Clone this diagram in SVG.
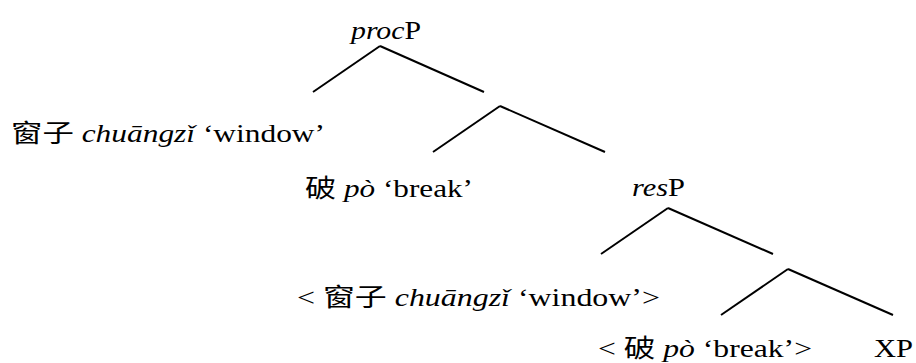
<svg xmlns="http://www.w3.org/2000/svg" width="916" height="363" viewBox="0 0 916 363">
<style>
text{font-family:"Liberation Serif","Times New Roman","Noto Sans CJK SC",serif;font-size:25px;fill:#000}
.i{font-style:italic}
line{stroke:#000;stroke-width:2;stroke-linecap:butt}
</style>
<rect width="916" height="363" fill="#fff"/>
<g id="connectors">
<line x1="380" y1="46" x2="313" y2="92"/>
<line x1="380" y1="46" x2="484" y2="92"/>
<line x1="500" y1="106" x2="433" y2="152"/>
<line x1="500" y1="106" x2="605" y2="152"/>
<line x1="668" y1="208" x2="601" y2="254"/>
<line x1="668" y1="208" x2="773" y2="254"/>
<line x1="788" y1="269" x2="721" y2="315"/>
<line x1="788" y1="269" x2="893" y2="315"/>
</g>
<g id="procP"><text x="351" y="39" textLength="70" lengthAdjust="spacingAndGlyphs"><tspan class="i">proc</tspan>P</text></g>
<g id="window"><text x="11" y="142" textLength="314" lengthAdjust="spacingAndGlyphs">窗子 <tspan class="i">chuāngzǐ</tspan> ‘window’</text></g>
<g id="break"><text x="305" y="197" textLength="168" lengthAdjust="spacingAndGlyphs">破 <tspan class="i">pò</tspan> ‘break’</text></g>
<g id="resP"><text x="632" y="196" textLength="53" lengthAdjust="spacingAndGlyphs"><tspan class="i">res</tspan>P</text></g>
<g id="window-trace"><text x="297" y="306" textLength="363" lengthAdjust="spacingAndGlyphs">&lt; 窗子 <tspan class="i">chuāngzǐ</tspan> ‘window’&gt;</text></g>
<g id="break-trace"><text x="598" y="357" textLength="214" lengthAdjust="spacingAndGlyphs">&lt; 破 <tspan class="i">pò</tspan> ‘break’&gt;</text></g>
<g id="XP"><text x="874" y="357" textLength="39" lengthAdjust="spacingAndGlyphs">XP</text></g>
</svg>
